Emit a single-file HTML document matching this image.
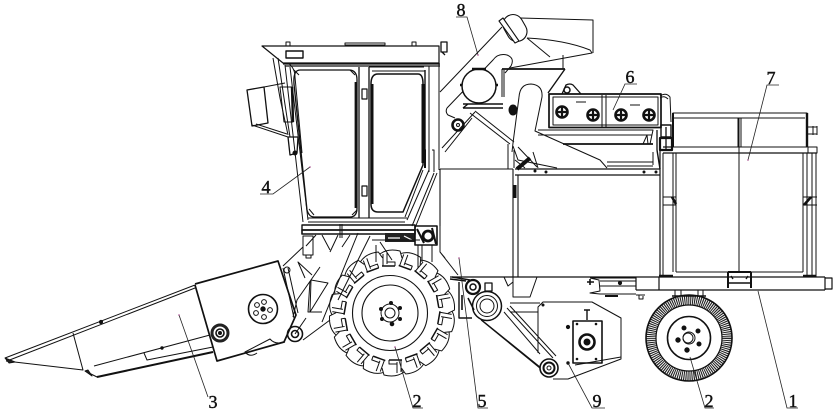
<!DOCTYPE html>
<html><head><meta charset="utf-8"><style>
html,body{margin:0;padding:0;background:#fff}
svg{display:block}
text{font-family:"Liberation Serif",serif;font-size:18px;fill:#111;stroke:#111;stroke-width:.45;text-anchor:middle}
</style></head><body>
<svg width="838" height="413" viewBox="0 0 838 413" xmlns="http://www.w3.org/2000/svg">
<defs>
<g id="lug" fill="none" stroke="#111" stroke-width="1">
<path d="M-12,-59 Q-4,-65 8,-62 L10,-55"/>
<path d="M-10,-47 H3" stroke-width="1.5"/>
<path d="M-9,-47 L-9,-59 M-5,-49 L-5,-60 M3,-47 L3,-51 L-5,-51"/>
</g>
</defs>
<rect width="838" height="413" fill="#fff"/>
<g fill="none" stroke="#111" stroke-width="1" stroke-linejoin="round">

<!-- header 3 -->
<path d="M5,358 L195,285 M7,361 L195,288"/>
<path d="M195,284 L278,261 L296,315 L284,342 L217,361 L195,285" stroke-width="1.7"/>
<path d="M6,361 L83,370 L73,333 M85,371 L97,377 L213,352" />
<path d="M97,377 L213,352" stroke-width="2"/>
<path d="M94,366 L210,335 M144,353 L147,360 L213,347"/>
<path d="M285,342 Q275,345 270,339 L245,352 Q250,358 257,353"/>
<path d="M5,358 L9,363 L15,362 Z M85,371 L92,376 L88,370 Z" fill="#222"/>
<circle cx="101" cy="322" r="1.6" fill="#111"/>
<circle cx="162" cy="348" r="1.2" fill="#111"/>
<circle cx="263" cy="309" r="14.5" stroke-width="1.6"/>
<circle cx="263" cy="309" r="2.2" fill="#111"/>
<g stroke-width="1"><circle cx="264" cy="302" r="2.4"/><circle cx="257" cy="305" r="2.4"/><circle cx="256" cy="313" r="2.4"/><circle cx="264" cy="317" r="2.4"/><circle cx="270" cy="310" r="2.4"/></g>
<circle cx="220" cy="333" r="8" stroke-width="3" stroke="#222"/><circle cx="220" cy="333" r="4" stroke-width="1.6"/><circle cx="220" cy="333" r="1.5" fill="#111"/>
<circle cx="295" cy="334" r="7.5" stroke-width="1.6"/><circle cx="295" cy="334" r="3.5" stroke-width="1.6"/>

<!-- linkage between header and cab -->
<path d="M303,247 L283,266 M283,268 L294,318 M288,268 L298,313 M320,267 L297,300 L293,317 M305,278 L298,262 L312,275 M310,281 L308,312 L322,312 M295,334 L306,318 M303,340 L330,320 M322,322 L358,233 M338,300 L370,236"/>
<circle cx="287" cy="270" r="3"/>
<path d="M303,236 L303,255 L313,255 L313,236 Z M306,255 V258 H311 V255"/>
<path d="M311,280 L328,283 L310,312 Z"/>

<!-- cab roof -->
<path d="M262,46 L439,46 L439,63 L283,63 Z" stroke-width="1.2"/>
<path d="M283,64 L440,64 M285,66 L440,66" stroke-width="1.3"/>
<path d="M286,42 H290 V46 H286 Z M412,42 H416 V46 H412 Z M345,43 H385 V45 H345 Z"/>
<path d="M286,51 H303 V58 H286 Z" stroke-width="1.4"/>
<path d="M441,42 H447 V52 H441 Z M442,52 L445,55" stroke-width="1.3"/>

<!-- cab frame -->
<path d="M285,65 L303,222 M290,67 L308,220 M273,58 L280,98 L288,135 M278,58 L284,98 L290,137"/>
<path d="M439,63 V170 M429,66 V172 M432,150 H434 V172"/>
<path d="M359,67 V218 M369,67 V218" stroke-width="1.3"/>
<path d="M369,67 H424 M372,71 H425" />
<path d="M308,218 H407 M308,222 H405" stroke-width="1.1"/>
<path d="M423,170 L405,217 M429,170 L407,220 M437,173 L415,228 M434,173 L412,226"/>
<path d="M293,66 H358" />
<!-- left window -->
<path d="M300,70 H349 Q357,70 357,80 V208 Q357,217 350,217 H314 Q309,217 307,210 L294,84 Q293,70 300,70 Z" stroke-width="1.3"/>
<path d="M356,82 V208" stroke-width="2.8"/>
<path d="M294,70 L299,75 M350,70 L355,75 M352,215 L357,210 M309,209 L314,215"/>
<!-- right window -->
<path d="M378,74 H418 Q423,74 423,84 V165 L403,212 H378 Q371,212 371,204 V84 Q371,74 378,74 Z" stroke-width="1.5"/>
<path d="M372,84 V204 M423,84 V163" stroke-width="3"/>
<path d="M425,70 V160" stroke-width="1.4"/>
<path d="M423,150 H425 V168" stroke-width="2"/>
<!-- hinges -->
<path d="M362,89 H367 V99 H362 Z M362,186 H367 V196 H362 Z" stroke-width="1.2"/>

<!-- mirror -->
<path d="M247,90 L264,87 L268,123 L252,126 Z" stroke-width="1.3"/>
<path d="M264,87 L285,83 M252,125 L288,137 M256,124 L287,134 M280,87 H292 L293,122 H284 Z"/>
<path d="M292,87 L293,122" stroke-width="2.4"/>
<path d="M288,63 Q295,68 295,77 L302,153"/>
<path d="M288,137 L298,137 L297,153 L290,155 Z" stroke-width="1.3"/>
<circle cx="295" cy="153" r="2" fill="#111"/>

<!-- floor bar -->
<rect x="302" y="225" width="113" height="5" stroke-width="1.4"/>
<rect x="302" y="230" width="113" height="4" stroke-width="1.6"/>
<path d="M340,224 V238 M342,224 V238"/>
<path d="M316,235 L306,246 M322,235 L330,250 M338,235 L330,252 M350,235 L342,247"/>
<rect x="385" y="233" width="30" height="9" fill="#222" stroke="none"/>
<path d="M388,238 H400 M404,236 L412,240" stroke="#fff" stroke-width="1.2"/>
<rect x="415" y="226" width="22" height="19" stroke-width="1.6"/>
<circle cx="428" cy="236" r="5" stroke-width="2.8"/>
<path d="M417,229 L424,243 M432,228 L436,244" stroke-width="2"/>
<path d="M380,242 L392,260 M372,240 H420 M376,245 V262 M432,245 V262 M422,245 V262 M418,245 V268" />
<path d="M440,224 L440,252 L458,275 M440,252 L445,258"/>

<!-- engine box -->
<path d="M440,169 H513 M513,169 V277 M518,175 V277 M440,169 V226" stroke-width="1.1"/>
<path d="M515,169 H660 M515,175 H660" stroke-width="1.2"/>
<path d="M660,150 V277 M450,277 H636" stroke-width="1.2"/>
<path d="M513,277 V297 H530 L537,277 M510,303 H540 M510,312 H538 M504,277 L508,286 L513,282"/>
<circle cx="535" cy="171" r="1" fill="#111"/><circle cx="546" cy="172" r="1" fill="#111"/><circle cx="644" cy="172" r="1" fill="#111"/><circle cx="656" cy="172" r="1" fill="#111"/>
<path d="M515,185 V198" stroke-width="3"/>

<!-- arms under elevator -->
<path d="M442,148 L475,112 M445,152 L472,118"/>
<path d="M463,108 L503,108 M463,104 L503,104 M463,108 L468,104" stroke-width="1.4"/>
<path d="M470,113 L510,144 M475,111 L514,142 M508,144 V169" />
<circle cx="458" cy="125" r="5.5" stroke-width="2.6"/>
<circle cx="458" cy="125" r="1.5"/>

<!-- elevator 8 -->
<path d="M440,92 L502,27 M447,108 L493,60 Q498,53 507,55 Q515,58 511,66 L505,73 M447,108 Q445,112 448,115 L455,118"/>
<circle cx="479" cy="86" r="17" fill="#fff" stroke-width="1.5"/>
<path d="M472,69 L486,69 M462,85 H460 M496,85 H498" stroke-width="2.4"/>
<rect x="505" y="14" width="20" height="28" rx="10" transform="rotate(-30 515 28)" fill="#fff" stroke-width="1.1"/>
<path d="M499,21 L503,18 L519,41 L515,43 Z" fill="#fff" stroke-width="1.1"/>
<path d="M520,18 L593,20 L593,53 M527,38 Q565,40 590,50 L592,53 L510,68 M527,38 L550,57 M563,55 V69"/>

<!-- hopper -->
<path d="M502,69 H565" stroke-width="1.8"/>
<path d="M565,69 L548,93" stroke-width="1.4"/>
<path d="M502,69 V97 M504,70 V97"/>
<!-- duct -->
<path d="M519,97 Q520,84 531,84 Q543,85 542,97 L535,131 L600,160 L607,168 M519,97 L513,143 M513,146 L518,160 L557,168"/>
<ellipse cx="513" cy="110" rx="4" ry="5" fill="#111"/>
<path d="M515,160 L525,168 M518,147 L537,167 M513,143 L512,152"/>
<path d="M517,169 L530,158" stroke-width="4"/>
<path d="M514,150 V168 M533,152 L538,168"/>

<!-- panel 6 -->
<rect x="549" y="94" width="112" height="33.5" stroke-width="1.7"/>
<rect x="553" y="97" width="105" height="28"/>
<path d="M602,95 V127 M606,95 V127"/>
<path d="M562,94 L566,85 Q570,83 573,85 L581,94" stroke-width="1.3"/>
<circle cx="567" cy="90" r="3" stroke-width="1.5"/>
<g stroke-width="2.6">
<circle cx="562" cy="112" r="5.5"/><circle cx="593" cy="115" r="5.5"/><circle cx="621" cy="115" r="5.5"/><circle cx="649" cy="115" r="5.5"/>
</g>
<g stroke-width="2.2">
<path d="M557,112 H567 M562,107 V117 M588,115 H598 M593,110 V120 M616,115 H626 M621,110 V120 M644,115 H654 M649,110 V120"/>
</g>
<path d="M576,102 L586,102 M630,105 H640" />
<path d="M660,96 Q666,92 670,97 L671,122 M660,98 Q664,95 668,99"/>
<rect x="661" y="125" width="10" height="12" stroke-width="1.4"/>
<rect x="660" y="138" width="12" height="12" stroke-width="2.2"/>
<path d="M657,130 V150 M666,127 V150" stroke-width="1.3"/>
<!-- lower sieve -->
<path d="M538,130 H653 L650,144 M538,135 H652" />
<path d="M563,144 H653" stroke-width="1.8"/>
<path d="M607,162 H653 M607,166 H653 M653,152 V165 M643,144 L647,135 L648,144"/>
<path d="M657,150 L660,169" stroke-width="1.4"/>

<!-- bin 7 -->
<path d="M673,113 H807 V147 H673 Z" stroke-width="1.1"/>
<path d="M673,118 H805 M738,118 V147 M741,118 V147"/>
<path d="M807,113 V147" stroke-width="2.4"/>
<path d="M673,113 V147" stroke-width="2"/>
<path d="M808,127 H817 M808,134 H817 M813,126 V135 M817,126 V135"/>
<path d="M663,147 H673 M663,153 H817" stroke-width="1.2"/>
<rect x="808" y="147" width="9" height="6"/>
<path d="M663,153 V277 M673,153 V272 M676,153 V272 M803,153 V272 M807,153 V277 M812,153 V277 M816,153 V277 M739,118 V272" stroke-width="1"/>
<path d="M663,197 H676 M663,205 H676 M803,197 H817 M803,205 H817"/>
<path d="M672,197 L676,204 M811,197 L804,205" stroke-width="2.6"/>
<path d="M676,272 H803"/>

<!-- frame -->
<path d="M636,277 H825 M636,290 H825 M636,277 V290 M659,277 V290 M825,277 V290 M825,278 H832 V289 H825" stroke-width="1.2"/>
<path d="M659,276 H673 M803,276 H816" stroke-width="2.4"/>
<path d="M728,272 H751 M728,272 V288 M751,272 V288" stroke-width="2"/>
<path d="M731,276 L733,279 M748,276 L746,279 M729,283 H750" stroke-width="1.4"/>
<!-- parts left of frame -->
<path d="M590,278 H636 M600,281 H636 M590,278 L599,280 L600,291 L590,293 L600,294 H636 M600,286 H636 M636,295 H645 M639,295 V299 H643 V296"/>
<path d="M590,279 V285 M587,282 H594" stroke-width="1.6"/>
<circle cx="620" cy="283" r="1.6" fill="#111"/>
<path d="M605,296 H618" stroke-width="2"/>
<path d="M675,290 V296 M681,290 V296 M698,290 V296 M703,290 V296"/>

<!-- rear wheel -->
<circle cx="689" cy="338" r="38" stroke-width="9.5" stroke-dasharray="1.1 0.9" stroke="#222"/>
<circle cx="689" cy="338" r="43" stroke-width="1.6"/>
<circle cx="689" cy="338" r="33" stroke-width="1.2"/>
<path d="M672,296 H706" stroke-width="1.6"/>
<circle cx="689" cy="338" r="21.5" stroke-width="1.6"/>
<circle cx="689" cy="338" r="6"/>
<circle cx="688" cy="338" r="5"/>
<g fill="#111"><circle cx="684" cy="328" r="2"/><circle cx="698" cy="331" r="2"/><circle cx="699" cy="344" r="2"/><circle cx="687" cy="350" r="2.2"/><circle cx="678" cy="340" r="2.2"/></g>

<!-- front wheel -->
<g transform="translate(392 313)">
<use href="#lug" transform="rotate(0)"/><use href="#lug" transform="rotate(20)"/><use href="#lug" transform="rotate(40)"/><use href="#lug" transform="rotate(60)"/><use href="#lug" transform="rotate(80)"/><use href="#lug" transform="rotate(100)"/><use href="#lug" transform="rotate(120)"/><use href="#lug" transform="rotate(140)"/><use href="#lug" transform="rotate(160)"/><use href="#lug" transform="rotate(180)"/><use href="#lug" transform="rotate(200)"/><use href="#lug" transform="rotate(220)"/><use href="#lug" transform="rotate(240)"/><use href="#lug" transform="rotate(260)"/><use href="#lug" transform="rotate(280)"/><use href="#lug" transform="rotate(300)"/><use href="#lug" transform="rotate(320)"/><use href="#lug" transform="rotate(340)"/>
</g>
<g transform="translate(390 313)">
<circle r="37.5" stroke-width="1.1"/>
<circle r="28" stroke-width="1.1"/>
<circle r="9"/><circle r="5"/>
<g fill="#111"><circle cx="1" cy="-10" r="1.5"/><circle cx="10" cy="-5" r="1.5"/><circle cx="10" cy="6" r="1.5"/><circle cx="2" cy="11" r="1.8"/><circle cx="-8" cy="6" r="1.5"/><circle cx="-9" cy="-4" r="1.5"/></g>
</g>

<!-- pulleys -->
<circle cx="487" cy="306" r="14.5" fill="#fff" stroke-width="1.5"/>
<circle cx="487" cy="306" r="10.5"/>
<circle cx="487" cy="306" r="7"/>
<circle cx="473" cy="287" r="7" stroke-width="2.2"/>
<circle cx="473" cy="287" r="3" stroke-width="1.5"/>
<path d="M452,277 L470,280 M450,279 L466,281 M459,282 V318 H472" stroke-width="1.4"/>
<path d="M462,295 V310 M468,298 L474,310" stroke-width="1.6"/>
<rect x="485" y="283" width="7" height="8" stroke-width="1.3"/>
<path d="M478,317 L540,367 M481,320 L541,369 M507,308 L553,358 M510,306 L556,356"/>
<path d="M504,312 L540,354"/>
<!-- plate 9 -->
<path d="M538,353 V307 L543,302 H592 L621,318 V359 L568,379 H553" stroke-width="1"/>
<circle cx="549" cy="368" r="9" fill="#fff" stroke-width="1.6"/>
<circle cx="549" cy="368" r="5.5" stroke-width="2"/>
<circle cx="549" cy="368" r="2"/>
<path d="M575,365 L621,357"/>
<rect x="573" y="321" width="29" height="42" stroke-width="1.6"/>
<circle cx="587" cy="342" r="7.5" stroke-width="2.6"/>
<circle cx="587" cy="342" r="3" fill="#111"/>
<path d="M587,310 V320 M584,310 H590" stroke-width="1.4"/>
<circle cx="568" cy="327" r="1.6" fill="#111"/>
<circle cx="568" cy="363" r="1.2" fill="#111"/><circle cx="543" cy="305" r="1" fill="#111"/>
<circle cx="577" cy="324" r="0.8" fill="#111"/><circle cx="596" cy="324" r="0.8" fill="#111"/><circle cx="577" cy="359" r="0.8" fill="#111"/><circle cx="596" cy="359" r="0.8" fill="#111"/>
</g>

<!-- leaders -->
<g fill="none" stroke="#222" stroke-width="0.8">
<path d="M179,315 L208,397"/>
<path d="M310,167 L273,194 H260"/>
<path d="M478,55 L467,17 H456"/>
<path d="M613,110 L625,84 H637"/>
<path d="M748,160 L767,85 H779"/>
<path d="M395,347 L413,408 H423"/>
<path d="M459,258 L478,408 H488"/>
<path d="M568,363 L592,408 H605"/>
<path d="M690,357 L705,408 H714"/>
<path d="M758,291 L787,408 H798"/>
</g>
<g fill="#a5488a"><circle cx="179" cy="315" r=".8"/><circle cx="310" cy="167" r=".8"/><circle cx="478" cy="55" r=".8"/><circle cx="748" cy="160" r=".8"/><circle cx="395" cy="347" r=".8"/><circle cx="459" cy="258" r=".8"/></g>

<!-- labels -->
<text x="213" y="408">3</text>
<text x="266" y="193">4</text>
<text x="461" y="16">8</text>
<text x="630" y="83">6</text>
<text x="771" y="84">7</text>
<text x="417" y="407">2</text>
<text x="482" y="407">5</text>
<text x="597" y="407">9</text>
<text x="709" y="407">2</text>
<text x="793" y="407">1</text>
</svg>
</body></html>
